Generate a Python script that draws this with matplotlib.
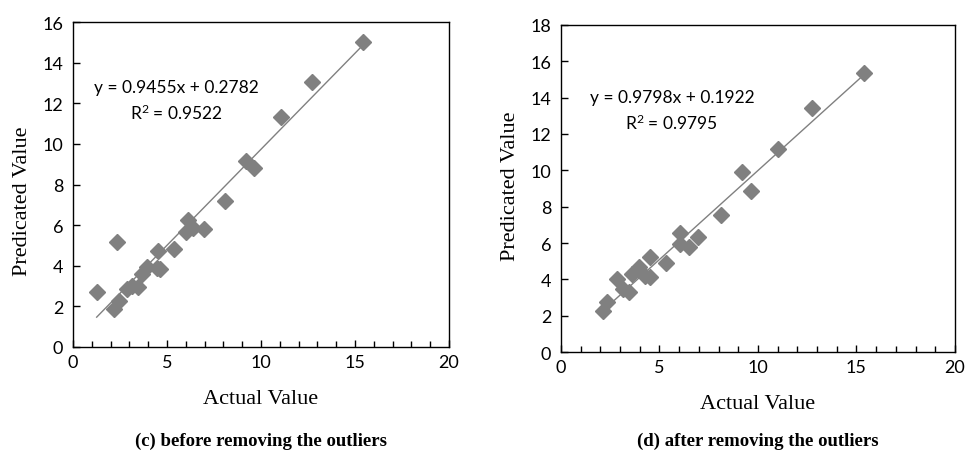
import matplotlib
matplotlib.use("Agg")
import matplotlib.pyplot as plt
import numpy as np
from matplotlib.ticker import MultipleLocator

# (c) before removing the outliers
actual_c = [15.41, 12.70, 11.05, 9.20, 9.65, 8.09, 6.10, 6.01, 6.40, 6.97,
            5.39, 4.54, 4.45, 4.65, 3.95, 3.65, 3.48, 3.12, 2.85, 2.36,
            1.26, 2.46, 2.18]
pred_c = [15.01, 13.07, 11.31, 9.18, 8.80, 7.21, 6.27, 5.65, 5.85, 5.81,
          4.83, 4.75, 3.88, 3.85, 3.92, 3.60, 2.94, 2.99, 2.86, 5.16,
          2.73, 2.28, 1.87]
fit_c = (0.9455, 0.2782)
r2_c = 0.9522

# (d) after removing the outliers
actual_d = [15.40, 12.72, 11.03, 9.17, 9.63, 8.10, 6.97, 6.04, 6.04, 6.50,
            5.33, 4.52, 4.52, 4.27, 3.96, 3.59, 2.82, 3.16, 3.47, 2.35, 2.12]
pred_d = [15.36, 13.41, 11.17, 9.89, 8.84, 7.56, 6.31, 6.55, 5.94, 5.76,
          4.88, 5.21, 4.11, 4.20, 4.66, 4.29, 4.02, 3.47, 3.32, 2.77, 2.28]
fit_d = (0.9798, 0.1922)
r2_d = 0.9795

GRAY = "#808080"
TICK_FONT = "Lato"
SERIF = "Liberation Serif"

plt.rcParams["mathtext.fontset"] = "custom"
plt.rcParams["mathtext.rm"] = TICK_FONT
plt.rcParams["mathtext.default"] = "regular"

fig = plt.figure(figsize=(9.68, 4.52), dpi=100)
ax_c = fig.add_axes([0.0754, 0.2301, 0.3884, 0.719])
ax_d = fig.add_axes([0.5795, 0.219, 0.407, 0.7235])


def draw_panel(ax, x, y, fit, r2, ymax, eq_x, eq_y, r2_y, ylab_xy, caption):
    x = np.asarray(x)
    y = np.asarray(y)
    slope, icpt = fit
    xs = np.array([x.min(), x.max()])
    ax.plot(xs, slope * xs + icpt, color=GRAY, lw=1.0, zorder=2)
    ax.plot(x, y, "D", color=GRAY, ms=8, mec=GRAY, zorder=3)

    ax.set_xlim(0, 20)
    ax.set_ylim(0, ymax)
    ax.xaxis.set_major_locator(MultipleLocator(5))
    ax.xaxis.set_minor_locator(MultipleLocator(1))
    ax.yaxis.set_major_locator(MultipleLocator(2))
    ax.tick_params(axis="both", which="both", direction="in", top=False, right=False,
                   width=1, labelsize=13)
    ax.tick_params(axis="y", pad=7)
    ax.tick_params(axis="x", pad=5)
    ax.tick_params(which="major", length=5)
    ax.tick_params(which="minor", length=4)
    for lab in ax.get_xticklabels() + ax.get_yticklabels():
        lab.set_fontfamily(TICK_FONT)
    for sp in ax.spines.values():
        sp.set_color("black")
        sp.set_linewidth(1.0)

    ax.text(eq_x, eq_y, f"y = {slope:.4f}x + {icpt:.4f}",
            ha="center", va="center", fontsize=12.5, family=TICK_FONT)
    ax.text(eq_x, r2_y, f"R$^{{2}}$ = {r2:.4f}",
            ha="center", va="center", fontsize=12.5, family=TICK_FONT)
    ax.set_xlabel("Actual Value", family=SERIF, fontsize=16, labelpad=14)
    ax.set_ylabel("Predicated Value", family=SERIF, fontsize=16)
    ax.yaxis.set_label_coords(*ylab_xy)
    pos = ax.get_position()
    fig.text((pos.x0 + pos.x1) / 2, 0.004, caption, ha="center", va="bottom",
             family=SERIF, fontsize=13.5, fontweight="bold")


draw_panel(ax_c, actual_c, pred_c, fit_c, r2_c, 16, 5.48, 12.8, 11.55,
           (-0.109, 0.452), "(c) before removing the outliers")
draw_panel(ax_d, actual_d, pred_d, fit_d, r2_d, 18, 5.63, 14.05, 12.65,
           (-0.104, 0.511), "(d) after removing the outliers")

fig.savefig("out.png", dpi=100)
